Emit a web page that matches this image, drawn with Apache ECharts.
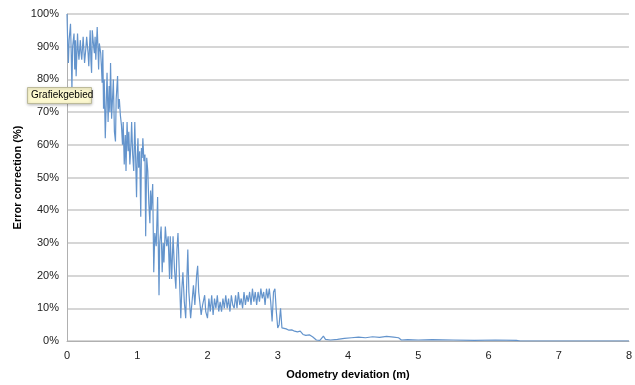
<!DOCTYPE html>
<html>
<head>
<meta charset="utf-8">
<script src="https://cdn.jsdelivr.net/npm/echarts@6/dist/echarts.min.js"></script>
<style>
html,body{margin:0;padding:0;background:#fff;}
#chart{width:635px;height:385px;}
</style>
</head>
<body>
<div id="chart"></div>
<script>
// Odometry deviation (m) and error correction (%)
const odometry = [
0.00,0.01,0.02,0.03,0.05,0.06,0.07,0.08,0.10,0.11,0.12,0.13,0.15,0.16,0.17,0.19,0.20,0.21,0.23,0.24,
0.25,0.27,0.28,0.30,0.31,0.33,0.34,0.35,0.36,0.38,0.39,0.40,0.41,0.43,0.44,0.45,0.46,0.48,0.49,
0.50,0.51,0.52,0.53,0.545,0.56,0.57,0.585,0.60,0.61,0.62,0.635,0.65,0.66,0.675,0.69,0.70,0.72,0.73,0.745,
0.76,0.775,0.79,0.80,0.815,0.83,0.84,0.855,0.87,0.88,0.895,0.91,0.92,0.935,0.95,0.965,0.975,0.99,
1.00,1.01,1.02,1.035,1.05,1.06,1.07,1.08,1.095,1.11,1.12,1.135,1.15,1.165,1.18,1.19,
1.20,1.22,1.235,1.25,1.27,1.29,1.31,1.32,1.34,1.355,1.37,1.38,1.40,1.42,1.44,1.46,1.47,
1.49,1.51,1.53,1.55,1.565,1.58,1.60,1.62,1.635,1.65,1.67,1.69,1.705,1.72,1.735,1.76,1.78,1.80,
1.82,1.845,1.86,1.875,1.89,1.91,1.93,1.96,1.975,2.00,
2.02,2.04,2.06,2.08,2.10,2.12,2.14,2.16,2.18,2.20,2.22,2.24,2.26,2.28,2.30,2.32,2.34,2.36,2.38,2.40,
2.42,2.44,2.46,2.48,2.50,2.52,2.54,2.56,2.58,2.60,2.62,2.64,2.66,2.68,2.70,2.72,2.74,2.76,2.78,2.80,
2.82,2.84,2.86,2.88,2.90,2.92,2.94,2.96,2.98,3.00,3.02,3.04,3.06,3.08,3.12,3.16,3.20,3.24,3.28,3.32,
3.36,3.40,3.45,3.50,3.55,3.60,3.65,3.68,3.75,3.85,3.95,4.05,4.15,4.25,4.35,4.45,4.55,4.65,4.72,4.76,
4.85,5.00,5.20,5.50,5.80,6.10,6.40,6.45,8.00
];
const errorCorrection = [
100,91,85,92,97,88,77,90,94,83,92,81,94,89,86,92,88,86,93,89,
85,90,93,88,84,95,86,82,95,90,88,93,86,96,90,83,91,88,84,
79,89,71,80,62,74,82,67,78,70,85,68,75,80,64,61,74,81,71,74,
69,66,60,67,54,63,52,67,58,64,54,60,67,57,52,67,58,44,
56,62,53,58,38,59,56,62,55,57,32,56,52,42,36,46,
40,48,21,33,29,44,14,30,35,21,30,24,35,29,32,19,32,
19,32,22,16,28,33,20,7,16,21,12,7,18,28,15,7,12,17,
11,20,23,15,12,8,11,14,9,7,
13,9,14,8,13,10,14,9,12,9,13,10,14,10,13,9,14,11,10,14,
10,15,11,13,10,15,11,14,12,15,11,16,12,15,11,15,12,16,13,15,
11,16,13,16,12,6,15,16,9,4,5,10,4,3.5,3.7,3.3,3.4,3,2.8,3,
2,1.7,1.9,1.2,0.3,0.2,1.5,0.5,0.3,0.5,0.8,1.0,1.2,1.0,1.3,1.1,1.4,1.2,1.0,0.3,
0.4,0.3,0.4,0.3,0.2,0.3,0.2,0,0
];
const xTicks = [0,1,2,3,4,5,6,7,8];
const yTickLabels = ['0%','10%','20%','30%','40%','50%','60%','70%','80%','90%','100%'];

const seriesData = odometry.map((x, i) => [x, errorCorrection[i]]);

const chart = echarts.init(document.getElementById('chart'), null, {renderer: 'canvas'});
const font = 'Liberation Sans, Arial, sans-serif';
chart.setOption({
  animation: false,
  backgroundColor: '#ffffff',
  grid: {left: 67, right: 5, top: 14, bottom: 43},
  xAxis: {
    type: 'value', min: 0, max: 8, interval: 1,
    name: 'Odometry deviation (m)', nameLocation: 'middle', nameGap: 28,
    nameTextStyle: {fontFamily: font, fontSize: 11, fontWeight: 'bold', color: '#000'},
    axisLine: {show: true, lineStyle: {color: '#b0b0b0', width: 1}},
    axisTick: {show: false},
    splitLine: {show: false},
    axisLabel: {fontFamily: font, fontSize: 11, color: '#222', margin: 9,
      formatter: v => xTicks.indexOf(v) >= 0 ? String(v) : ''}
  },
  yAxis: {
    type: 'value', min: 0, max: 100, interval: 10,
    name: 'Error correction (%)', nameLocation: 'middle', nameGap: 44, nameRotate: 90,
    nameMoveOverlap: false,
    nameTextStyle: {fontFamily: font, fontSize: 11, fontWeight: 'bold', color: '#000'},
    axisLine: {show: true, lineStyle: {color: '#b0b0b0', width: 1}},
    axisTick: {show: false},
    splitLine: {show: true, lineStyle: {color: '#c8c8c8', width: 1.5}},
    axisLabel: {fontFamily: font, fontSize: 11, color: '#222', margin: 8,
      formatter: v => yTickLabels[Math.round(v / 10)]}
  },
  series: [{
    type: 'line',
    data: seriesData,
    showSymbol: false,
    lineStyle: {color: '#6494cc', width: 1.2},
    z: 3
  }],
  graphic: [
    {type: 'rect', left: 27, top: 87, z: 100,
     shape: {width: 64, height: 16},
     style: {fill: '#fcf8cf', stroke: '#bdbb9a', lineWidth: 1, shadowBlur: 3, shadowColor: 'rgba(0,0,0,0.25)', shadowOffsetY: 1}},
    {type: 'text', left: 31, top: 90, z: 101,
     style: {text: 'Grafiekgebied', fill: '#000', font: '10px ' + font}}
  ]
});
</script>
</body>
</html>
